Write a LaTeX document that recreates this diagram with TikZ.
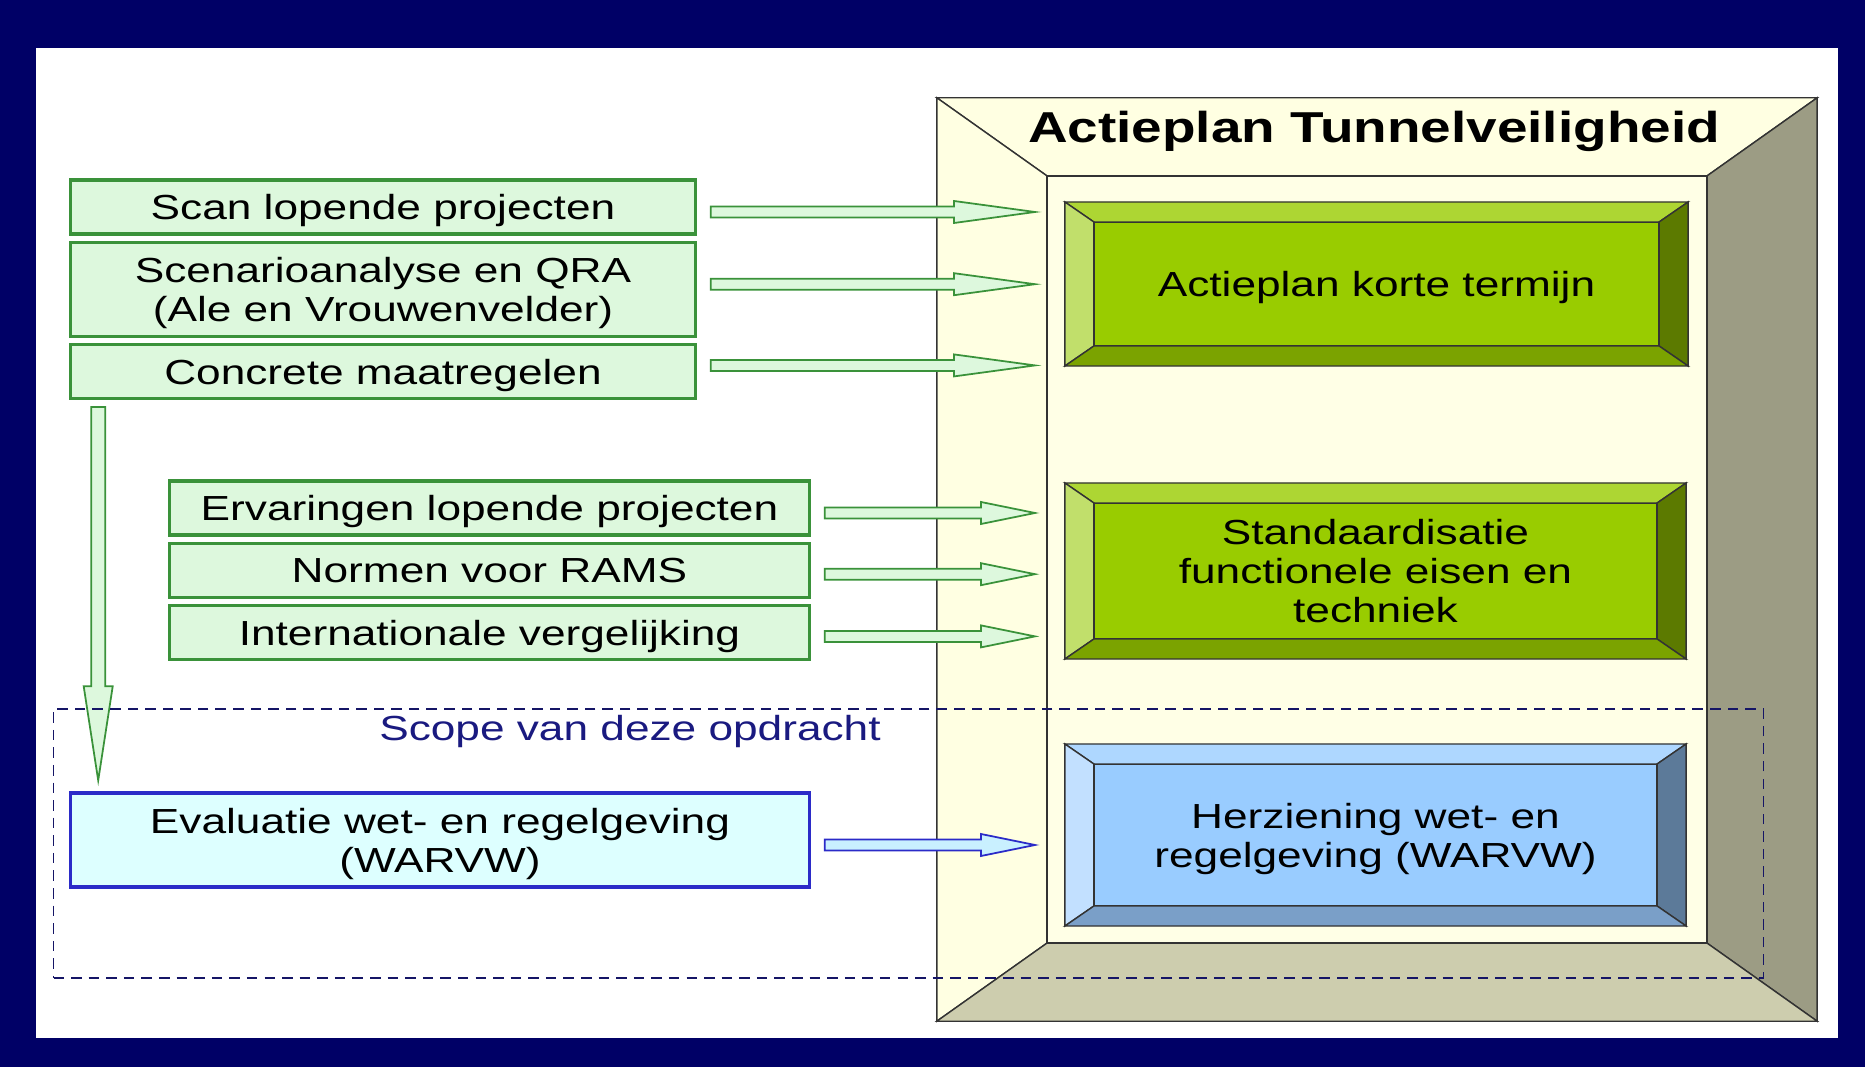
\documentclass[tikz,border=0pt]{standalone}
\usepackage{fontspec}
\setmainfont[FakeStretch=1.27]{Liberation Sans}
\usetikzlibrary{calc, positioning}

\definecolor{navy}{HTML}{000066}
\definecolor{mint}{HTML}{DDF8DD}
\definecolor{leafline}{HTML}{3A923A}
\definecolor{ice}{HTML}{DDFFFF}
\definecolor{iceline}{HTML}{2B2BC8}
\definecolor{cream}{HTML}{FFFFE6}
\definecolor{creamtop}{HTML}{FFFFE2}
\definecolor{khaki}{HTML}{9C9C84}
\definecolor{khakilight}{HTML}{CDCDAE}
\definecolor{lime}{HTML}{99CC00}
\definecolor{limetop}{HTML}{ADD633}
\definecolor{limeleft}{HTML}{C1DF6B}
\definecolor{limeright}{HTML}{5C7A00}
\definecolor{limebot}{HTML}{7BA300}
\definecolor{sky}{HTML}{99CCFF}
\definecolor{skytop}{HTML}{AED7FF}
\definecolor{skyleft}{HTML}{C2E0FF}
\definecolor{skyright}{HTML}{5C7A99}
\definecolor{skybot}{HTML}{7A9FC8}
\definecolor{scopeblue}{HTML}{1A1A80}

\tikzset{
  inbox/.style={draw=leafline, fill=mint, line width=0.9pt, minimum height=0.54cm, inner sep=1pt, align=center, text depth=0pt},
  evbox/.style={draw=iceline, fill=ice, line width=0.9pt, inner sep=1pt, align=center, text depth=0pt},
  front/.style={draw=black!80, line width=0.5pt, outer sep=0pt, inner sep=1pt, align=center, text depth=0pt},
  garrow/.style={draw=leafline, fill=mint, line width=0.5pt},
  barrow/.style={draw=iceline, fill=ice!70!sky, line width=0.5pt},
  scopebox/.style={draw=scopeblue!80!black, dash pattern=on 3pt off 2pt, line width=0.4pt}
}

% bevelled block: front node, insets, top/left/right/bottom face
\newcommand\bevel[7]{%
  \coordinate (nw) at ($(#1.north west)+(-#2,-#3)$);
  \coordinate (se) at ($(#1.south east)+(#2,#3)$);
  \filldraw[fill=#4, draw=black!80] (nw) -- (nw -| se) -- (#1.north east) -- (#1.north west) -- cycle;
  \filldraw[fill=#5, draw=black!80] (nw) -- (#1.north west) -- (#1.south west) -- (nw |- se) -- cycle;
  \filldraw[fill=#6, draw=black!80] (nw -| se) -- (se) -- (#1.south east) -- (#1.north east) -- cycle;
  \filldraw[fill=#7, draw=black!80] (nw |- se) -- (#1.south west) -- (#1.south east) -- (se) -- cycle;
}

% block arrow: style, tail, tip, shaft half width, head half width, head length
\newcommand\blockarrow[6]{%
  \coordinate (hb) at ($(#3)!#6!(#2)$);
  \filldraw[#1] ($(#2)!#4!90:(#3)$) -- ($(hb)!#4!90:(#3)$) -- ($(hb)!#5!90:(#3)$)
    -- (#3) -- ($(hb)!#5!-90:(#3)$) -- ($(hb)!#4!-90:(#3)$) -- ($(#2)!#4!-90:(#3)$) -- cycle;
}

\begin{document}
\begin{tikzpicture}
  [x=0.01cm, y=-0.01cm, node distance=0.05cm, text centered,
   font=\fontsize{9.9}{11.1}\selectfont]

  % frame
  \fill[navy] (0,0) rectangle (1865,1067);
  \fill[white] (36,48) rectangle (1838,1038);

  % big box
  \node[front, fill=cream, minimum width=6.6cm, minimum height=7.67cm] (panel) at (1377,559.5) {};
  \bevel{panel}{110}{78}{creamtop}{creamtop}{khaki}{khakilight}
  \node[font=\bfseries\fontsize{12.3}{14}\selectfont, text depth=0pt] (title) at (1374,127) {Actieplan Tunnelveiligheid};

  % blocks
  \node[front, fill=lime, minimum width=5.65cm, minimum height=1.24cm] (kort) at (1376.5,284) {Actieplan korte termijn};
  \node[front, fill=lime, minimum width=5.63cm, minimum height=1.36cm] (std) at (1375.5,571) {Standaardisatie\\functionele eisen en\\techniek};
  \node[front, fill=sky, minimum width=5.63cm, minimum height=1.42cm] (herz) at (1375.5,835) {Herziening wet- en\\regelgeving (WARVW)};
  \bevel{kort}{29}{20}{limetop}{limeleft}{limeright}{limebot}
  \bevel{std}{29}{20}{limetop}{limeleft}{limeright}{limebot}
  \bevel{herz}{29}{20}{skytop}{skyleft}{skyright}{skybot}

  % inputs
  \node[inbox, minimum width=6.24cm] (scan) at (383,207) {Scan lopende projecten};
  \node[inbox, minimum width=6.24cm, minimum height=0.94cm, below=of scan] (qra) {Scenarioanalyse en QRA\\(Ale en Vrouwenvelder)};
  \node[inbox, minimum width=6.24cm, below=of qra] (maat) {Concrete maatregelen};
  \node[inbox, minimum width=6.39cm] (erv) at (489.5,508) {Ervaringen lopende projecten};
  \node[inbox, minimum width=6.39cm, below=of erv] (rams) {Normen voor RAMS};
  \node[inbox, minimum width=6.39cm, below=of rams] (intl) {Internationale vergelijking};
  \node[evbox, minimum width=7.38cm, minimum height=0.94cm] (eval) at (440,840) {Evaluatie wet- en regelgeving\\(WARVW)};

  % arrows
  \coordinate (tipx) at (1035,0);
  \foreach \n/\dy/\hl in {scan/5/0.81cm, qra/-5/0.81cm, maat/-6/0.81cm, erv/5/0.54cm, rams/4/0.54cm, intl/4/0.54cm} {
    \coordinate (a) at ($(\n.east)+(14,\dy)$);
    \coordinate (b) at (a -| tipx);
    \blockarrow{garrow}{a}{b}{0.055cm}{0.11cm}{\hl}
  }
  \coordinate (a) at ($(eval.east)+(14,5)$);
  \coordinate (b) at (a -| tipx);
  \blockarrow{barrow}{a}{b}{0.055cm}{0.11cm}{0.54cm}

  % down arrow
  \coordinate (dtop) at ($(maat.south west)+(29,7)$);
  \coordinate (dbot) at ($(eval.north west)+(29,-11)$);
  \blockarrow{garrow}{dtop}{dbot}{0.07cm}{0.145cm}{0.94cm}

  % scope
  \node[scopebox, minimum width=17.09cm, minimum height=2.69cm] (scope) at (908.5,843.5) {};
  \node[text=scopeblue, text depth=0pt] (scopelbl) at (630,728) {Scope van deze opdracht};
\end{tikzpicture}
\end{document}
